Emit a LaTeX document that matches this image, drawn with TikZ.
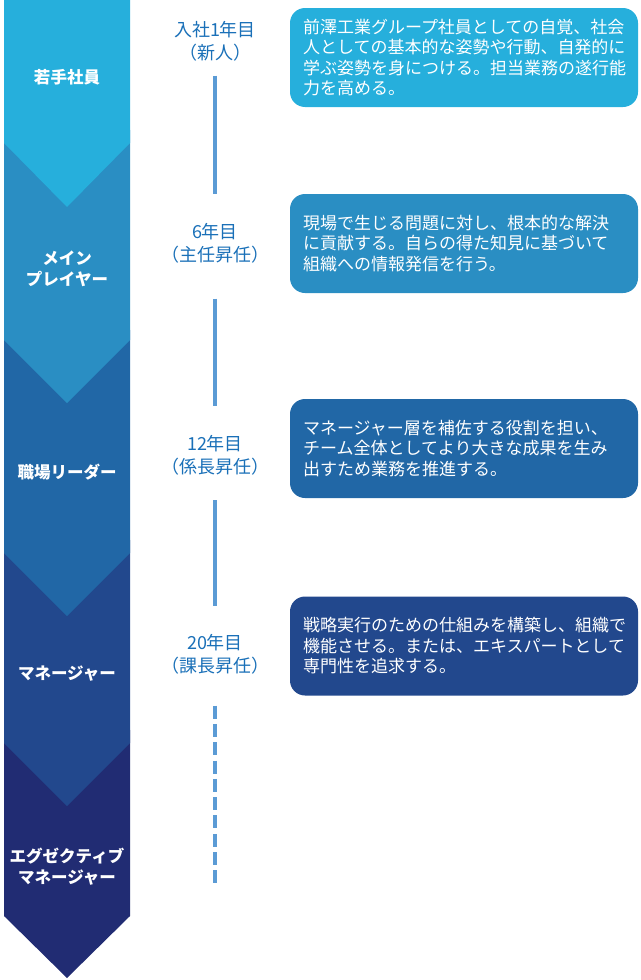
\documentclass[tikz,border=0pt]{standalone}
\usepackage{fontspec}
\newfontfamily\jp{Noto Sans CJK JP}
\usetikzlibrary{positioning}
\usepackage{xcolor}
\definecolor{stageA}{HTML}{26AFDC}
\definecolor{stageB}{HTML}{2A8EC3}
\definecolor{stageC}{HTML}{2167A6}
\definecolor{stageD}{HTML}{22488D}
\definecolor{stageE}{HTML}{212C73}
\definecolor{yeartxt}{HTML}{1A70B8}
\definecolor{tlinec}{HTML}{5B9BD5}

\begin{document}
\begin{tikzpicture}[x=1pt, y=-1pt,
    stage/.style={text=white, inner sep=0, align=center, font=\jp\bfseries\fontsize{16.5}{21}\selectfont},
    year/.style={text=yeartxt, inner sep=0, align=center, font=\jp\fontsize{18}{23}\selectfont},
    info/.style={rounded corners=15, minimum width=348, minimum height=99, text width=322,
                 inner xsep=13, inner ysep=0, align=left, text=white,
                 font=\jp\fontsize{17}{20.5}\selectfont},
    tline/.style={draw=tlinec, line width=4.5}]
    \useasboundingbox (0,0) rectangle (640,980);
    % Stufen (von unten nach oben)
    \fill[stageE] (4,730) -- (130,730) -- (130,916) -- (67,978) -- (4,916) -- cycle;
    \fill[stageD] (4,540) -- (130,540) -- (130,743) -- (67,806) -- (4,743) -- cycle;
    \fill[stageC] (4,330) -- (130,330) -- (130,553) -- (67,616) -- (4,553) -- cycle;
    \fill[stageB] (4,130) -- (130,130) -- (130,340) -- (67,403) -- (4,340) -- cycle;
    \fill[stageA] (4,0) -- (130,0) -- (130,143) -- (67,207) -- (4,143) -- cycle;
    \node[stage] (s1) at (67,77) {若手社員};
    \node[stage] (s2) at (67,269) {メイン\\プレイヤー};
    \node[stage] (s3) at (67,472) {職場リーダー};
    \node[stage] (s4) at (67,674) {マネージャー};
    \node[stage] (s5) at (67,867) {エグゼクティブ\\マネージャー};
    % Jahre
    \node[year] (y1) at (215,41.5) {入社1年目\\（新人）};
    \node[year] (y2) at (215,243.5) {6年目\\（主任昇任）};
    \node[year] (y3) at (215,455) {12年目\\（係長昇任）};
    \node[year] (y4) at (215,654.5) {20年目\\（課長昇任）};
    \coordinate (tend) at (215,883);
    % Linien
    \draw[tline, shorten <=14, shorten >=29] (y1.south) -- (y2.north);
    \draw[tline, shorten <=35, shorten >=28.5] (y2.south) -- (y3.north);
    \draw[tline, shorten <=25, shorten >=28.5] (y3.south) -- (y4.north);
    \draw[tline, dash pattern=on 13 off 5.3, shorten <=31] (y4.south) -- (tend);
    % Beschreibungen
    \node[info, fill=stageA] (d1) at (464,57.5) {前澤工業グループ社員としての自覚、社会\\人としての基本的な姿勢や行動、自発的に\\学ぶ姿勢を身につける。担当業務の遂行能\\力を高める。};
    \node[info, fill=stageB] (d2) at (464,243.5) {現場で生じる問題に対し、根本的な解決\\に貢献する。自らの得た知見に基づいて\\組織への情報発信を行う。};
    \node[info, fill=stageC] (d3) at (464,448.5) {マネージャー層を補佐する役割を担い、\\チーム全体としてより大きな成果を生み\\出すため業務を推進する。};
    \node[info, fill=stageD] (d4) at (464,646) {戦略実行のための仕組みを構築し、組織で\\機能させる。または、エキスパートとして\\専門性を追求する。};
\end{tikzpicture}
\end{document}
